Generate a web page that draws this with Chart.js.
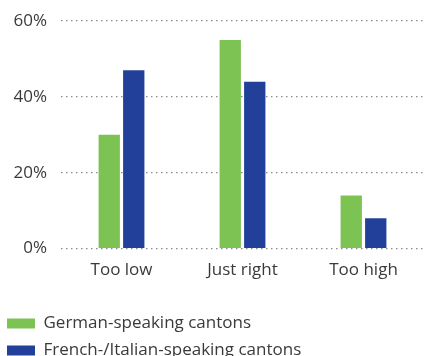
<!DOCTYPE html>
<html>
<head>
<meta charset="utf-8">
<script src="https://cdn.jsdelivr.net/npm/chart.js@4"></script>
<style>
html, body { margin: 0; padding: 0; background: #fff; overflow: hidden; }
#wrap { position: absolute; left: -3px; top: 0; width: 427px; height: 369px; }
</style>
</head>
<body>
<div id="wrap"><canvas id="myChart"></canvas></div>
<script>
// datos
const categorias = ['Too low', 'Just right', 'Too high'];
const aleman = [30, 55, 14];
const francesItaliano = [47, 44, 8];
const ticksY = [0, 20, 40, 60];

const fuente = { family: "'Open Sans', sans-serif", size: 17 };
const colorTexto = '#3a3a3a';

const ctx = document.getElementById('myChart').getContext('2d');
const myChart = new Chart(ctx, {
    type: 'bar',
    data: {
        labels: categorias,
        datasets: [{
            label: 'German-speaking cantons',
            data: aleman,
            backgroundColor: '#7dc353',
            borderWidth: 0
        }, {
            label: 'French-/Italian-speaking cantons',
            data: francesItaliano,
            backgroundColor: '#22409a',
            borderWidth: 0
        }]
    },
    options: {
        responsive: true,
        maintainAspectRatio: false,
        animation: false,
        layout: { padding: { top: 21, left: 0, right: 0, bottom: 0 } },
        datasets: {
            bar: { categoryPercentage: 0.405, barPercentage: 0.87 }
        },
        plugins: {
            tooltip: { enabled: false },
            legend: {
                position: 'bottom',
                align: 'start',
                labels: {
                    boxWidth: 28,
                    boxHeight: 10,
                    padding: 10,
                    color: colorTexto,
                    font: fuente
                }
            }
        },
        scales: {
            x: {
                grid: { display: false },
                border: { display: false },
                afterFit: function (scale) { scale.height += 22; },
                ticks: { color: colorTexto, font: fuente, padding: 3 }
            },
            y: {
                min: ticksY[0],
                max: ticksY[ticksY.length - 1],
                afterFit: function (scale) {
                    scale.width = 64;
                    scale.paddingTop = 0;
                    scale.paddingBottom = 0;
                },
                afterBuildTicks: function (scale) {
                    scale.ticks = ticksY.map(v => ({ value: v }));
                },
                grid: {
                    color: '#8c8c8c',
                    lineWidth: 1.3,
                    drawTicks: false
                },
                border: { display: false, dash: [1.5, 3.5] },
                ticks: {
                    color: colorTexto,
                    font: fuente,
                    padding: 14,
                    callback: function (v) { return v + '%'; }
                }
            }
        }
    }
});
</script>
</body>
</html>
